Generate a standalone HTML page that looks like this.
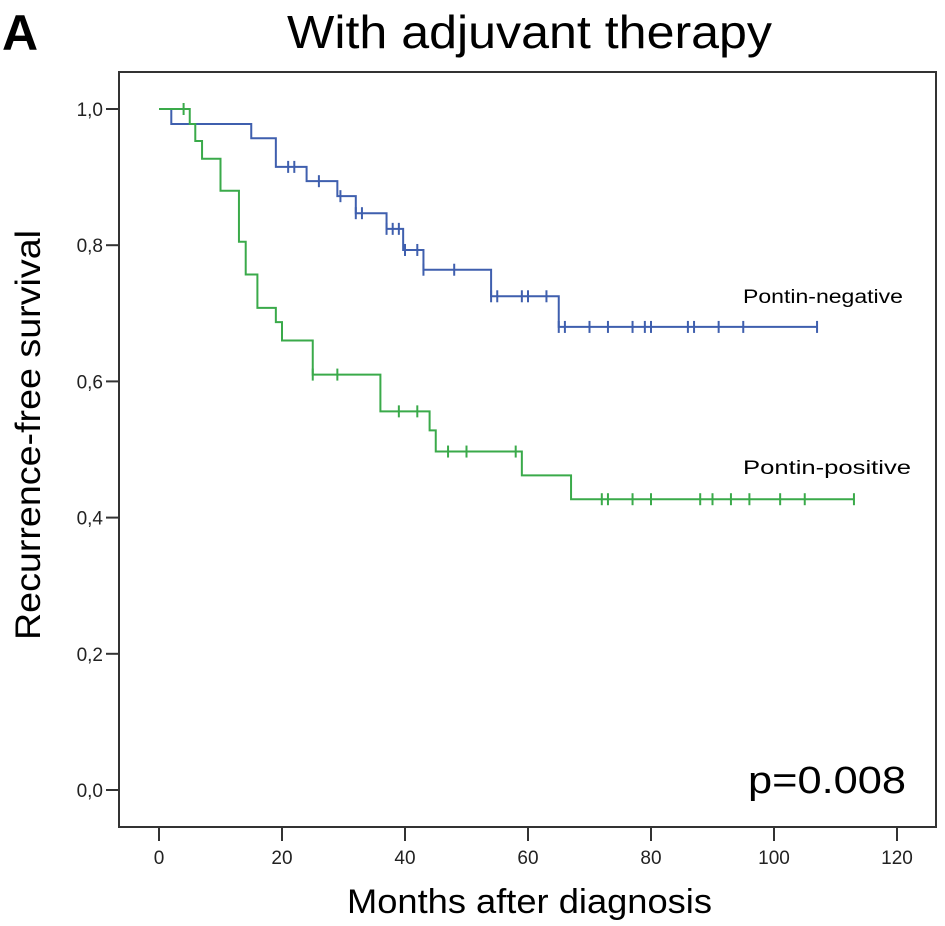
<!DOCTYPE html>
<html><head><meta charset="utf-8"><style>
body{margin:0;background:#fff}
svg{display:block;font-family:"Liberation Sans",Arial,sans-serif}
</style></head><body>
<svg id="chart" width="945" height="926" viewBox="0 0 945 926">
<text x="2" y="50" font-size="50" font-weight="bold">A</text>
<text x="287" y="48" font-size="46" textLength="485" lengthAdjust="spacingAndGlyphs">With adjuvant therapy</text>
<rect x="119" y="72" width="817" height="755" fill="none" stroke="#333" stroke-width="2"/>
<g id="axes"></g>
<g id="series"></g>
<text transform="translate(40,435) rotate(-90)" font-size="35" text-anchor="middle" textLength="410" lengthAdjust="spacingAndGlyphs">Recurrence-free survival</text>
<text x="347" y="913" font-size="34" textLength="365" lengthAdjust="spacingAndGlyphs">Months after diagnosis</text>
<text x="748" y="793" font-size="38" textLength="158" lengthAdjust="spacingAndGlyphs">p=0.008</text>
<text x="743" y="303" font-size="19" textLength="160" lengthAdjust="spacingAndGlyphs">Pontin-negative</text>
<text x="743" y="474" font-size="19" textLength="168" lengthAdjust="spacingAndGlyphs">Pontin-positive</text>
</svg>
<script>
const xTicks=[0,20,40,60,80,100,120];
const yTicks=[0,0.2,0.4,0.6,0.8,1.0];
const yTickLabels=["0,0","0,2","0,4","0,6","0,8","1,0"];
const negTimes=[0,2,15,19,24,29,32,37,39.7,43,54,65];
const negSurv=[1,0.978,0.957,0.915,0.894,0.872,0.847,0.824,0.793,0.764,0.725,0.68];
const negEnd=107;
const negCensor=[21,22,26,29.5,32,33,37,38,39,40,42,43,48,54,55,59,60,63,65,66,70,73,77,79,80,86,87,91,95,107];
const posTimes=[0,5,5.9,7,10,13,14.1,16,19,20,25,36,44,45,59,67];
const posSurv=[1,0.978,0.953,0.927,0.88,0.805,0.757,0.708,0.687,0.66,0.61,0.556,0.528,0.497,0.462,0.427];
const posEnd=113;
const posCensor=[4,25,29,39,42,47,50,58,72,73,77,80,88,90,93,96,101,105,113];

const NS='http://www.w3.org/2000/svg';
const X=m=>159+m*6.15;
const Y=s=>790-s*681;
function mk(tag,attrs,parent){const e=document.createElementNS(NS,tag);for(const k in attrs)e.setAttribute(k,attrs[k]);parent.appendChild(e);return e;}
const axes=document.getElementById('axes');
xTicks.forEach(t=>{
  const l=mk('line',{x1:X(t),x2:X(t),y1:827,y2:841,stroke:'#333','stroke-width':2},axes);
  
  
  const tx=mk('text',{x:X(t),y:864,'font-size':19,'text-anchor':'middle',fill:'#222'},axes);
  tx.textContent=t;
  
  
});
yTicks.forEach((t,i)=>{
  const l=mk('line',{x1:106,x2:119,y1:Y(t),y2:Y(t),stroke:'#333','stroke-width':2},axes);
  
  
  const tx=mk('text',{x:103,y:Y(t)+7,'font-size':19,'text-anchor':'end',fill:'#222'},axes);
  tx.textContent=yTickLabels[i];
  
  
});
const g=document.getElementById('series');
function survAt(times,surv,t){let s=surv[0];for(let i=0;i<times.length;i++){if(times[i]<=t)s=surv[i];}return s;}
function draw(times,surv,end,censor,color,name){
  let d='M'+X(times[0])+','+Y(surv[0]);
  for(let i=1;i<times.length;i++){d+=' H'+X(times[i])+' V'+Y(surv[i]);}
  d+=' H'+X(end);
  const p=mk('path',{d:d,fill:'none',stroke:color,'stroke-width':2},g);
  
  
  censor.forEach(c=>{
    const s=survAt(times,surv,c);
    const l=mk('line',{x1:X(c),x2:X(c),y1:Y(s)-6,y2:Y(s)+6,stroke:color,'stroke-width':2},g);
    
    
  });
}
draw(negTimes,negSurv,negEnd,negCensor,'#3f5fae','pontin-negative');
draw(posTimes,posSurv,posEnd,posCensor,'#3aaa4a','pontin-positive');
</script>
</body></html>
